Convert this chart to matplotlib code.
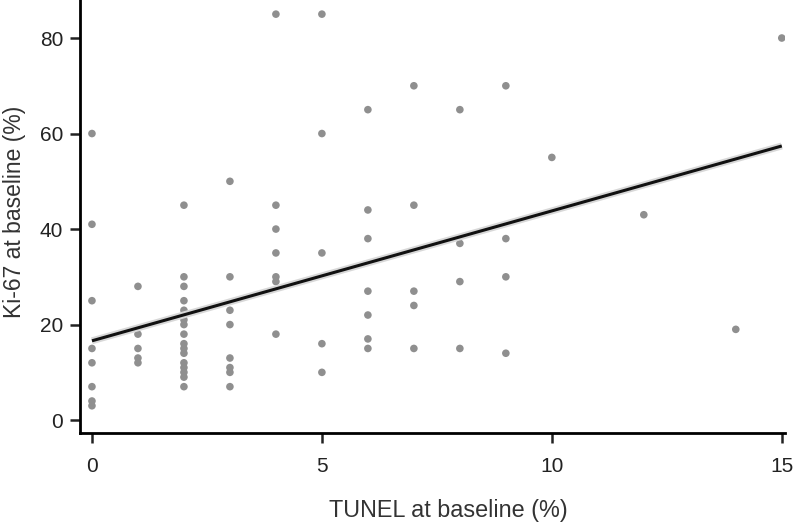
import numpy as np
import matplotlib
matplotlib.use("Agg")
import matplotlib.pyplot as plt

plt.rcParams['font.family'] = ['Liberation Sans', 'DejaVu Sans']

tunel = [0]*8 + [1]*5 + [2]*17 + [3]*8 + [4]*7 + [5]*5 + [6]*7 + [7]*5 + [8]*4 + [9]*4 + [10, 12, 14, 15]
ki67 = [60, 41, 25, 15, 12, 7, 4, 3,
        28, 18, 15, 13, 12,
        45, 30, 28, 25, 23, 22, 21, 20, 18, 16, 15, 14, 12, 11, 10, 9, 7,
        50, 30, 23, 20, 13, 11, 10, 7,
        85, 45, 40, 35, 30, 29, 18,
        85, 60, 35, 16, 10,
        65, 44, 38, 27, 22, 17, 15,
        70, 45, 27, 24, 15,
        65, 37, 29, 15,
        70, 38, 30, 14,
        55, 43, 19, 80]

# regression line
fit_intercept = 16.6
fit_slope = 2.72
fit_range = [0, 15]

x = np.array(tunel, dtype=float)
y = np.array(ki67, dtype=float)

fig = plt.figure(figsize=(7.98, 5.22), dpi=100)
ax = fig.add_axes([80/798, 1-433/522, (785-80)/798, 433/522])
ax.scatter(x, y, s=30, color='#8f8f8f', edgecolors='none', zorder=2)
xs = np.array(fit_range, dtype=float)
ax.plot(xs, fit_intercept + fit_slope*xs, color='#d8d8d8', lw=5, zorder=3, solid_capstyle='butt')
ax.plot(xs, fit_intercept + fit_slope*xs, color='#111111', lw=2.2, zorder=4, solid_capstyle='butt')

ax.set_xlim(-0.26, 15.07)
ax.set_ylim(-2.7, 87.96)
ax.set_xticks([0, 5, 10, 15])
ax.set_yticks([0, 20, 40, 60, 80])
for s in ['top', 'right']:
    ax.spines[s].set_visible(False)
for s in ['left', 'bottom']:
    ax.spines[s].set_linewidth(2.0)
ax.tick_params(axis='both', direction='out', length=7, width=1.8, labelsize=15, colors='#222222', pad=5)
ax.tick_params(axis='x', pad=10)
ax.set_xlabel('TUNEL at baseline (%)', fontsize=16.8, color='#333333')
ax.set_ylabel('Ki-67 at baseline (%)', fontsize=16.5, color='#333333')
ax.xaxis.set_label_coords((448-80)/705, -(510-433)/433)
ax.yaxis.set_label_coords(-(80-15)/705, 1-212/433)
ax.xaxis.label.set_va('center')
ax.yaxis.label.set_va('center')

fig.savefig('out.png', dpi=100)
